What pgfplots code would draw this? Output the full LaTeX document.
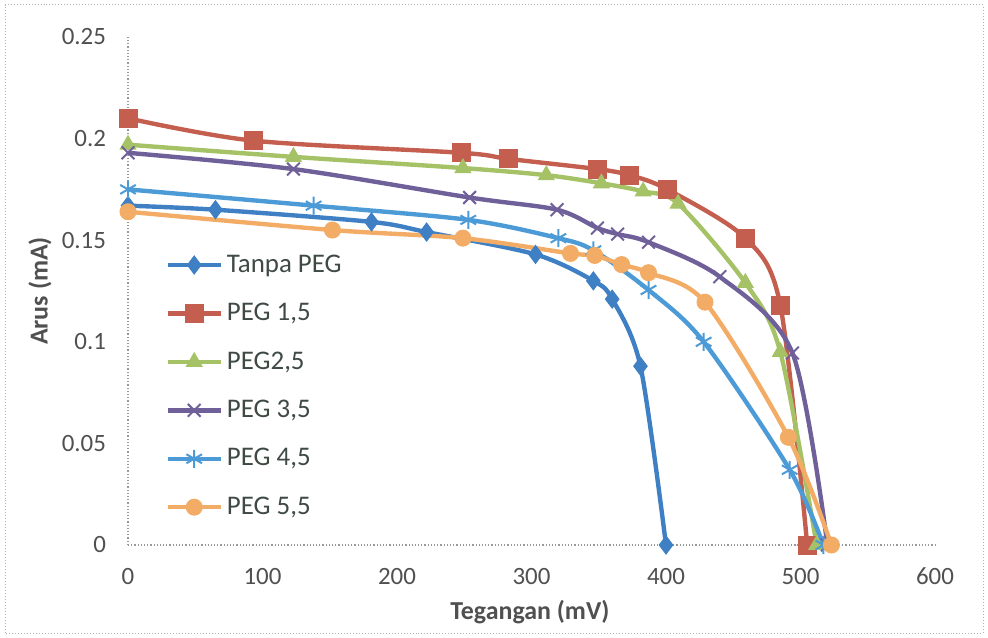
\documentclass[border=0pt]{standalone}
\usepackage{pgfplots}
\pgfplotsset{compat=1.18}
\usepackage{fontspec}
\setmainfont{Carlito}
\definecolor{cA}{HTML}{3F7FC4}
\definecolor{cB}{HTML}{C45E4E}
\definecolor{cC}{HTML}{A5C267}
\definecolor{cD}{HTML}{70609A}
\definecolor{cE}{HTML}{4C9BD6}
\definecolor{cF}{HTML}{F2AC66}
\definecolor{tickgray}{HTML}{505050}
\definecolor{leggray}{HTML}{3F4A44}
\begin{document}
\begin{tikzpicture}
\begin{axis}[
  scale only axis, width=403.5bp, height=254bp,
  xmin=0, xmax=600, ymin=0, ymax=0.25,
  xtick={0,100,200,300,400,500,600},
  ytick={0,0.05,0.1,0.15,0.2,0.25},
  axis x line=bottom, axis y line=left,
  axis line style={-, gray!80, densely dotted, line width=0.6pt},
  major tick length=0pt,
  tick label style={font=\fontsize{12.5}{14}\selectfont, color=tickgray},
  /pgf/number format/assume math mode=true,
  yticklabel style={/pgf/number format/fixed, /pgf/number format/precision=2, xshift=-7.5bp},
  xticklabel style={yshift=-8bp},
  clip=false,
  xlabel={\textbf{Tegangan (mV)}},
  ylabel={\textbf{Arus (mA)}},
  xlabel style={at={(axis description cs:0.498,-0.132)}, anchor=center, font=\fontsize{13}{15}\selectfont, color=tickgray},
  ylabel style={at={(axis description cs:-0.109,0.5)}, anchor=center, font=\fontsize{13}{15}\selectfont, color=tickgray},
  legend style={at={(axis description cs:0.046,0.58)}, anchor=north west, draw=none, fill=none,
    font=\fontsize{13.5}{15}\selectfont, text=leggray, row sep=10bp, inner sep=0pt,
    nodes={inner sep=2bp}},
  legend cell align=left,
  legend image code/.code={\draw[#1, mark=none] (0bp,0bp) -- (26.5bp,0bp);
     \draw[#1, only marks] plot coordinates {(13.25bp,0bp)};},
  every axis plot/.append style={line width=2.2pt, smooth, tension=0.5},
]
\addplot[color=cA, mark=diamond*, mark size=4.5bp, mark options={solid, line width=0.5pt}] coordinates {
(0,0.167)(65,0.165)(181,0.159)(222,0.154)(303,0.143)(346,0.130)(360,0.121)(381,0.088)(400,0)};
\addlegendentry{Tanpa PEG}
\addplot[color=cB, mark=square*, mark size=4.5bp, mark options={solid, line width=0.5pt}] coordinates {
(0,0.210)(93,0.199)(248,0.193)(283,0.190)(349,0.185)(373,0.182)(401,0.175)(459,0.151)(485,0.118)(505,0)};
\addlegendentry{PEG 1,5}
\addplot[color=cC, mark=triangle*, mark size=4.5bp, mark options={solid, line width=0.5pt}] coordinates {
(0,0.197)(123,0.191)(249,0.1855)(311,0.182)(352,0.178)(383,0.174)(409,0.168)(459,0.129)(485,0.095)(512,0)};
\addlegendentry{PEG2,5}
\addplot[color=cD, mark=x, mark size=4.5bp, mark options={solid, line width=1pt}] coordinates {
(0,0.193)(123,0.185)(254,0.171)(319,0.165)(349,0.156)(364,0.153)(387,0.149)(440,0.132)(494,0.0945)(520,0)};
\addlegendentry{PEG 3,5}
\addplot[color=cE, mark=asterisk, mark size=4.5bp, mark options={solid, line width=1pt}] coordinates {
(0,0.175)(138,0.167)(253,0.160)(320,0.151)(346,0.145)(387,0.1255)(428,0.100)(492,0.037)(517,0)};
\addlegendentry{PEG 4,5}
\addplot[color=cF, mark=*, mark size=4bp, mark options={solid, line width=0.5pt}] coordinates {
(0,0.164)(152,0.155)(249,0.151)(329,0.1435)(347,0.1425)(367,0.138)(387,0.134)(429,0.1195)(491,0.053)(523,0)};
\addlegendentry{PEG 5,5}
\coordinate (O) at (rel axis cs:0,0);
\end{axis}
\pgfresetboundingbox
\draw[gray!60, densely dotted, line width=0.5pt] ([shift={(-61.5bp,-44bp)}]O) rectangle ([shift={(427.5bp,270bp)}]O);
\path[use as bounding box] ([shift={(-64bp,-46.5bp)}]O) rectangle ([shift={(430bp,272.5bp)}]O);
\end{tikzpicture}
\end{document}
